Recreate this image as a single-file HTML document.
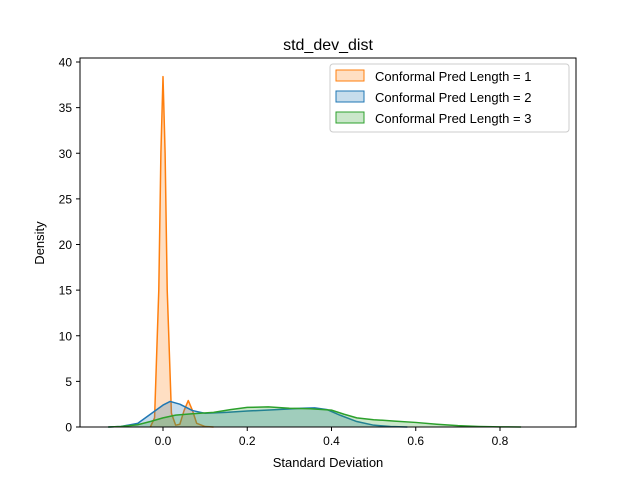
<!DOCTYPE html>
<html><head><meta charset="utf-8"><style>
body{margin:0;background:#fff;font-family:"Liberation Sans",sans-serif}
svg text{font-family:"Liberation Sans",sans-serif}
</style></head><body>
<svg id="c" width="640" height="480" xmlns="http://www.w3.org/2000/svg">
<rect width="640" height="480" fill="#fff"/>
<text x="328" y="50" font-size="16" text-anchor="middle">std_dev_dist</text>
<text x="328" y="467" font-size="13" text-anchor="middle">Standard Deviation</text>
<text x="44" y="243" font-size="13" text-anchor="middle" transform="rotate(-90 44 243)">Density</text>
<g id="marks"></g>
<g id="ticks"></g>
<rect x="80" y="58" width="496" height="369" fill="none" stroke="#000" stroke-width="1"/>
<g>
<rect x="330" y="64" width="239" height="68" fill="#fff" fill-opacity="0.8" stroke="#ccc" rx="3"/>
<g><rect x="336" y="70" width="28" height="11" fill="#ff7f0e" fill-opacity="0.25" stroke="#ff7f0e"/><text x="375" y="81" font-size="13">Conformal Pred Length = 1</text></g>
<g><rect x="336" y="91" width="28" height="11" fill="#1f77b4" fill-opacity="0.25" stroke="#1f77b4"/><text x="375" y="102" font-size="13">Conformal Pred Length = 2</text></g>
<g><rect x="336" y="112" width="28" height="11" fill="#2ca02c" fill-opacity="0.25" stroke="#2ca02c"/><text x="375" y="123" font-size="13">Conformal Pred Length = 3</text></g>
</g>
</svg>
<script>
const xTicks=[0,0.2,0.4,0.6,0.8];
const xTickLabels=["0.0","0.2","0.4","0.6","0.8"];
const yTicks=[0,5,10,15,20,25,30,35,40];
const x1=[-0.03,-0.02,-0.01,-0.005,0,0.005,0.01,0.02,0.03,0.04,0.05,0.06,0.07,0.08,0.1,0.12];
const y1=[0,1,15,30,38.4,30,15,1.5,0.2,0.3,1.8,2.9,1.8,0.4,0.05,0];
const x2=[-0.13,-0.1,-0.06,-0.03,0,0.017,0.04,0.07,0.1,0.15,0.2,0.27,0.33,0.36,0.39,0.42,0.46,0.5,0.54,0.58];
const y2=[0,0.05,0.4,1.4,2.4,2.8,2.5,1.8,1.5,1.6,1.75,1.9,2.05,2.1,1.9,1.3,0.6,0.2,0.05,0];
const x3=[-0.13,-0.1,-0.06,-0.03,0,0.03,0.07,0.12,0.16,0.2,0.25,0.3,0.35,0.4,0.43,0.46,0.5,0.55,0.6,0.65,0.7,0.75,0.8,0.85];
const y3=[0,0.05,0.25,0.6,1.0,1.3,1.45,1.6,1.9,2.15,2.2,2.05,2.0,1.85,1.4,1.0,0.8,0.65,0.5,0.3,0.15,0.06,0.02,0];
const X=v=>163+v*421.25, Y=v=>427-v*9.125;
const NS="http://www.w3.org/2000/svg";
const m=document.getElementById('marks'), t=document.getElementById('ticks');
function series(xs,ys,col,name){
  let d='M'+X(xs[0])+','+Y(0);
  for(let i=0;i<xs.length;i++) d+=' L'+X(xs[i])+','+Y(ys[i]);
  d+=' L'+X(xs[xs.length-1])+','+Y(0)+' Z';
  const a=document.createElementNS(NS,'path');
  a.setAttribute('d',d);a.setAttribute('fill',col);a.setAttribute('fill-opacity','0.25');
  
  
  m.appendChild(a);
  let l='';
  for(let i=0;i<xs.length;i++) l+=(i?' L':'M')+X(xs[i])+','+Y(ys[i]);
  const p=document.createElementNS(NS,'path');
  p.setAttribute('d',l);p.setAttribute('fill','none');p.setAttribute('stroke',col);p.setAttribute('stroke-width','1.5');p.setAttribute('stroke-linejoin','round');
  
  
  m.appendChild(p);
}
series(x1,y1,'#ff7f0e','kde-length-1');
series(x2,y2,'#1f77b4','kde-length-2');
series(x3,y3,'#2ca02c','kde-length-3');
xTicks.forEach((v,i)=>{
  const l=document.createElementNS(NS,'line');
  l.setAttribute('x1',X(v));l.setAttribute('x2',X(v));l.setAttribute('y1',427);l.setAttribute('y2',431);l.setAttribute('stroke','#000');
  
  
  t.appendChild(l);
  const s=document.createElementNS(NS,'text');
  s.setAttribute('x',X(v));s.setAttribute('y',445);s.setAttribute('font-size','12');s.setAttribute('text-anchor','middle');
  s.textContent=xTickLabels[i];
  
  
  t.appendChild(s);
});
yTicks.forEach(v=>{
  const l=document.createElementNS(NS,'line');
  l.setAttribute('x1',76);l.setAttribute('x2',80);l.setAttribute('y1',Y(v));l.setAttribute('y2',Y(v));l.setAttribute('stroke','#000');
  
  
  t.appendChild(l);
  const s=document.createElementNS(NS,'text');
  s.setAttribute('x',72);s.setAttribute('y',Y(v)+4.5);s.setAttribute('font-size','12');s.setAttribute('text-anchor','end');
  s.textContent=String(v);
  
  
  t.appendChild(s);
});
</script>
</body></html>
